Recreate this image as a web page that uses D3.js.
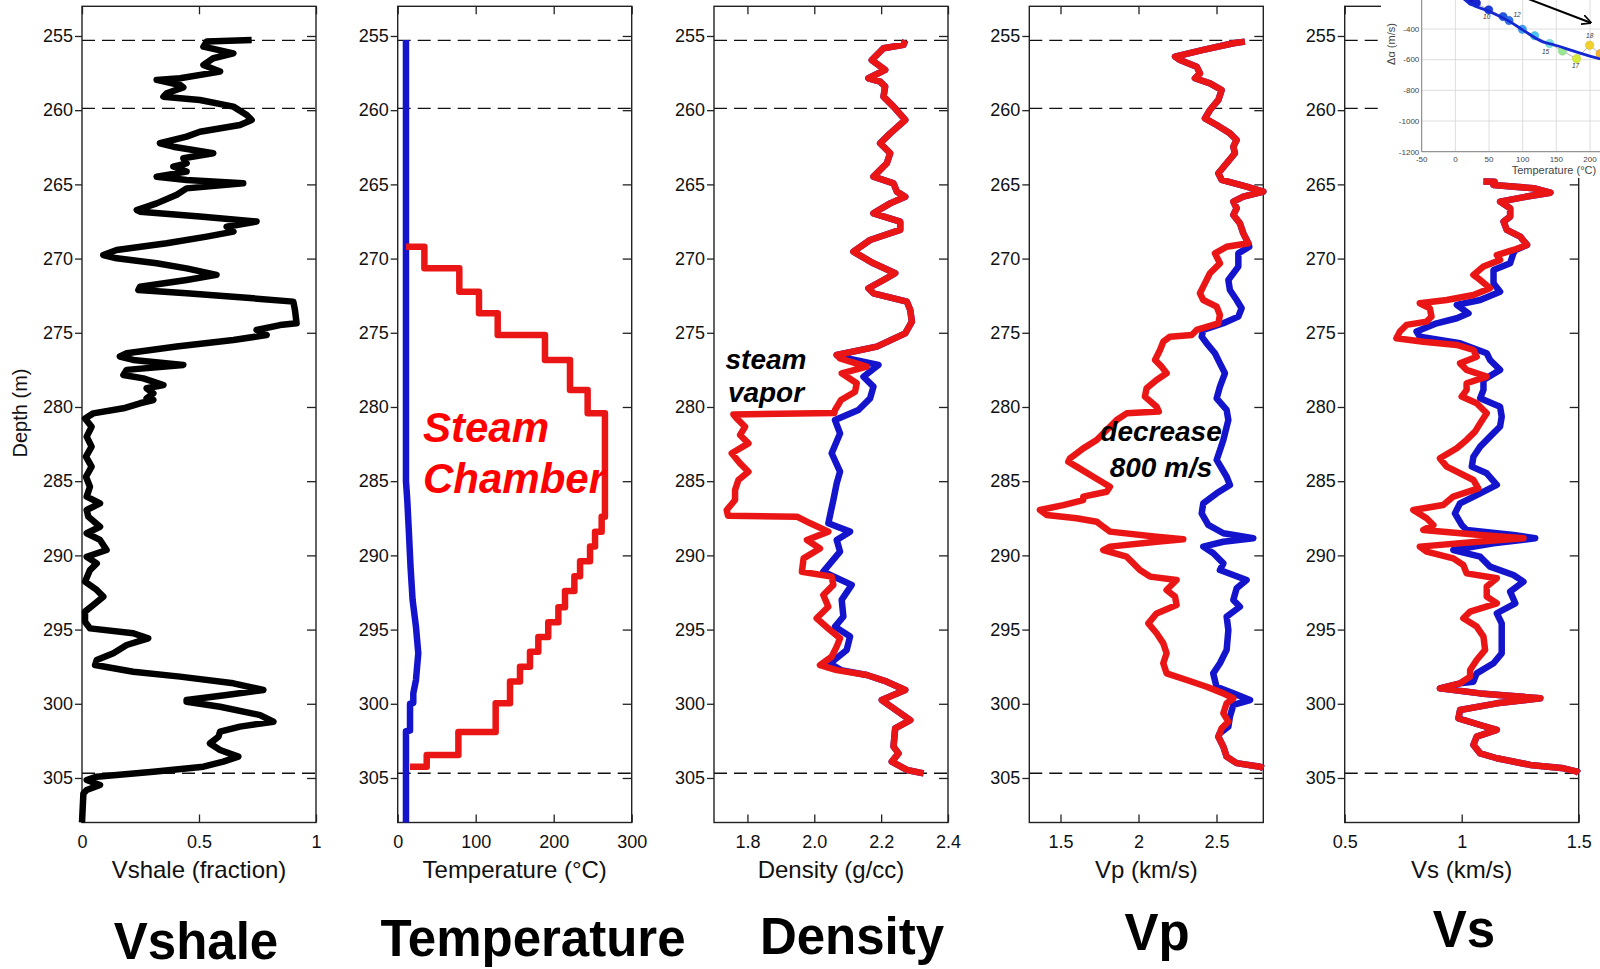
<!DOCTYPE html>
<html>
<head>
<meta charset="utf-8">
<script src="https://cdn.jsdelivr.net/npm/d3@7/dist/d3.min.js"></script>
<style>
html,body{margin:0;padding:0;background:#fff;}
svg{display:block;}
</style>
</head>
<body>
<svg id="chart" width="1600" height="969"></svg>
<script>
// ================= DATA =================
const panelTitles = ["Vshale", "Temperature", "Density", "Vp", "Vs"];
const axisTitles = ["Vshale (fraction)", "Temperature (\u00B0C)", "Density (g/cc)", "Vp (km/s)", "Vs (km/s)"];
const xDomains = [[0, 1], [0, 300], [1.7, 2.4], [1.3, 2.8], [0.5, 1.5]];
const xTickValues = [[0, 0.5, 1], [0, 100, 200, 300], [1.8, 2.0, 2.2, 2.4], [1.5, 2, 2.5], [0.5, 1, 1.5]];
const xTickLabels = [["0", "0.5", "1"], ["0", "100", "200", "300"], ["1.8", "2.0", "2.2", "2.4"], ["1.5", "2", "2.5"], ["0.5", "1", "1.5"]];
const depthDomain = [253, 308];
const depthTicks = [255, 260, 265, 270, 275, 280, 285, 290, 295, 300, 305];
const markerDepths = [255.29, 259.88, 304.68];

// [depth (m), Vshale fraction]
const vshale = [[255.27,0.725],[255.38,0.533],[255.72,0.519],[256.17,0.647],[256.5,0.561],[256.95,0.519],[257.4,0.59],[257.85,0.419],[257.96,0.319],[258.3,0.419],[258.46,0.433],[258.86,0.362],[259.09,0.348],[259.31,0.504],[259.76,0.647],[260.32,0.704],[260.66,0.725],[261.0,0.675],[261.45,0.504],[261.78,0.447],[262.23,0.333],[262.46,0.39],[262.9,0.561],[263.24,0.433],[263.58,0.447],[263.8,0.39],[264.14,0.447],[264.48,0.319],[264.7,0.447],[264.93,0.689],[265.27,0.447],[265.7,0.405],[266.28,0.319],[266.73,0.234],[266.84,0.248],[267.17,0.504],[267.5,0.746],[267.85,0.618],[268.18,0.647],[268.52,0.533],[268.97,0.362],[269.42,0.148],[269.76,0.091],[269.98,0.148],[270.32,0.319],[270.66,0.447],[271.1,0.575],[271.44,0.447],[271.9,0.248],[272.12,0.241],[272.34,0.447],[272.68,0.732],[272.9,0.903],[273.46,0.91],[274.36,0.917],[274.48,0.846],[274.81,0.746],[275.15,0.789],[275.49,0.647],[275.93,0.405],[276.38,0.191],[276.6,0.162],[276.83,0.219],[277.17,0.433],[277.5,0.191],[277.84,0.177],[278.07,0.262],[278.52,0.348],[278.74,0.276],[279.08,0.305],[279.42,0.276],[279.53,0.305],[279.75,0.248],[280.09,0.177],[280.43,0.048],[280.77,0.013],[281.33,0.041],[282.0,0.02],[282.67,0.041],[283.35,0.017],[284.02,0.041],[284.7,0.017],[285.37,0.034],[286.04,0.02],[286.5,0.077],[286.94,0.02],[287.39,0.027],[288.07,0.077],[288.51,0.02],[288.96,0.077],[289.64,0.105],[290.09,0.02],[290.54,0.063],[290.99,0.034],[291.77,0.013],[292.33,0.063],[292.78,0.091],[293.34,0.048],[293.79,0.013],[294.47,0.013],[294.92,0.034],[295.25,0.219],[295.59,0.283],[296.04,0.191],[296.6,0.134],[297.05,0.063],[297.39,0.056],[297.84,0.219],[298.17,0.419],[298.62,0.647],[299.07,0.775],[299.41,0.618],[299.75,0.447],[299.86,0.447],[300.2,0.59],[300.76,0.761],[301.21,0.818],[301.54,0.675],[301.88,0.59],[302.22,0.583],[302.67,0.547],[303.11,0.59],[303.56,0.668],[303.9,0.604],[304.24,0.519],[304.58,0.305],[304.91,0.063],[305.14,0.02],[305.47,0.077],[305.81,0.02],[306.04,0.006],[308,0.0]];

// Original (pre-steam) temperature [depth, degC]
const tempOriginal = [[255.27,10.6],[285.0,10.6],[286.3,12.3],[288.5,14.4],[290.8,16.5],[293.0,19.1],[294.8,23.4],[296.6,26.4],[298.4,23.4],[299.3,20.0],[299.95,20.0],[300.0,15.8],[301.8,15.8],[301.85,10.6],[308,10.6]];
// Steam chamber temperature: step boundaries (m) and the value inside each step (degC)
const steamTempDepth = [269.2,270.66,272.23,273.69,275.15,276.83,278.85,280.43,287.4,288.4,289.4,290.4,291.4,292.4,293.5,294.5,295.5,296.5,297.5,298.5,299.97,301.9,303.45,304.24];
const steamTempValue = [34.2,79,104.2,128.2,188.8,220.9,243.5,265.7,261.5,253,246.6,233.8,226.5,214.5,206,193,180.3,169.6,156.8,144,125.6,77.8,37.2];
const steamTempStart = 10.6, steamTempEnd = 15.8;

// Density [depth, g/cc] - steam case (red) and the original where it differs (blue)
const densitySteam = [[255.3,2.272],[255.6,2.267],[255.83,2.207],[256.62,2.172],[257.29,2.212],[257.85,2.162],[258.08,2.197],[258.41,2.212],[259.09,2.207],[259.76,2.237],[260.66,2.272],[261.56,2.227],[262.23,2.197],[262.9,2.227],[263.58,2.217],[264.48,2.177],[264.93,2.237],[265.49,2.247],[265.83,2.272],[266.28,2.227],[266.95,2.177],[267.51,2.257],[268.07,2.257],[268.75,2.167],[269.53,2.117],[270.32,2.177],[270.99,2.242],[271.44,2.207],[272.0,2.162],[272.34,2.177],[272.9,2.277],[273.46,2.287],[274.25,2.292],[275.04,2.272],[275.93,2.187],[276.5,2.067],[276.72,2.077],[276.95,2.108],[277.28,2.157],[277.73,2.082],[278.4,2.127],[278.97,2.122],[279.53,2.08],[280.2,2.062],[280.4,2.06],[280.5,1.758],[280.77,1.768],[281.33,1.793],[281.89,1.778],[282.45,1.803],[283.12,1.753],[283.8,1.778],[284.36,1.803],[284.92,1.773],[285.6,1.763],[286.27,1.763],[286.94,1.738],[287.33,1.742],[287.39,1.948],[287.84,1.988],[288.4,2.042],[288.96,1.978],[289.53,2.017],[290.2,1.968],[291.1,1.963],[291.43,2.052],[291.99,2.057],[292.67,2.027],[293.46,2.042],[294.24,2.007],[295.03,2.047],[295.59,2.077],[296.15,2.067],[296.83,2.052],[297.39,2.017],[297.73,2.067],[298.06,2.157],[298.51,2.217],[299.07,2.272],[299.75,2.202],[300.31,2.237],[301.1,2.287],[301.66,2.242],[302.89,2.237],[303.34,2.252],[303.9,2.232],[304.46,2.277],[304.69,2.327]];
const densityOriginalPart = [[276.72,2.1],[277.17,2.192],[277.96,2.147],[278.63,2.177],[279.42,2.167],[280.2,2.132],[280.88,2.062],[281.78,2.077],[283.12,2.052],[284.36,2.077],[285.15,2.067],[286.27,2.057],[287.84,2.042],[288.4,2.107],[288.96,2.067],[289.75,2.077],[291.1,2.027],[291.99,2.112],[293.0,2.082],[294.13,2.087],[294.8,2.062],[295.47,2.107],[296.37,2.097],[297.28,2.047],[297.73,2.08]];

// Vp [depth, km/s]
const vpSteam = [[255.38,2.682],[255.49,2.608],[255.94,2.415],[256.39,2.234],[256.62,2.266],[257.07,2.373],[257.52,2.394],[257.85,2.362],[258.19,2.458],[258.64,2.533],[259.31,2.512],[259.99,2.458],[260.55,2.426],[261.0,2.501],[261.56,2.586],[262.01,2.629],[262.46,2.608],[262.9,2.618],[263.58,2.565],[264.25,2.512],[264.7,2.533],[265.15,2.693],[265.49,2.8],[265.83,2.672],[266.16,2.608],[266.61,2.629],[267.06,2.608],[267.62,2.65],[268.3,2.672],[268.97,2.704],[269.2,2.565],[269.65,2.49],[270.32,2.522],[270.99,2.458],[271.89,2.415],[272.34,2.394],[272.79,2.415],[273.24,2.501],[273.8,2.522],[274.36,2.512],[274.81,2.373],[275.15,2.341],[275.26,2.202],[275.6,2.159],[276.16,2.138],[276.83,2.106],[277.28,2.148],[277.73,2.18],[278.18,2.116],[278.74,2.052],[279.3,2.041],[279.98,2.116],[280.31,2.13],[280.43,1.924],[280.88,1.86],[281.55,1.796],[282.23,1.732],[282.79,1.646],[283.46,1.561],[283.69,1.55],[284.02,1.603],[284.7,1.71],[285.37,1.817],[285.71,1.796],[286.04,1.646],[286.27,1.646],[286.61,1.518],[286.94,1.368],[287.28,1.411],[287.5,1.603],[287.73,1.732],[288.07,1.774],[288.4,1.817],[288.74,2.116],[288.92,2.287],[289.08,2.116],[289.41,1.817],[289.64,1.774],[290.09,1.924],[290.54,1.967],[290.99,2.009],[291.43,2.074],[291.66,2.244],[292.33,2.18],[292.78,2.234],[293.34,2.244],[293.91,2.116],[294.58,2.063],[295.25,2.116],[295.93,2.159],[296.6,2.18],[297.27,2.159],[297.95,2.18],[298.4,2.309],[298.85,2.437],[299.3,2.544],[299.63,2.608],[299.97,2.565],[300.64,2.544],[301.2,2.576],[301.65,2.533],[302.22,2.512],[302.89,2.544],[303.56,2.565],[304.0,2.629],[304.24,2.779],[304.35,2.8]];
const vpOriginalPart = [[269.2,2.71],[269.65,2.64],[270.54,2.64],[271.44,2.576],[272.12,2.586],[272.79,2.629],[273.35,2.661],[273.91,2.64],[274.36,2.544],[274.81,2.415],[275.26,2.405],[275.71,2.437],[276.38,2.49],[277.06,2.522],[277.73,2.554],[278.63,2.522],[279.42,2.501],[280.2,2.565],[280.88,2.576],[282.23,2.544],[283.57,2.501],[284.7,2.565],[285.26,2.586],[285.82,2.501],[286.5,2.415],[287.17,2.405],[287.95,2.447],[288.51,2.544],[288.85,2.736],[289.08,2.544],[289.41,2.415],[289.86,2.48],[290.54,2.544],[290.99,2.522],[291.66,2.693],[292.22,2.629],[293.0,2.608],[293.46,2.65],[294.13,2.565],[295.03,2.576],[296.37,2.565],[297.27,2.522],[297.95,2.479],[298.85,2.5],[299.3,2.608],[299.75,2.715],[300.08,2.608],[300.87,2.586],[301.54,2.576],[302.0,2.52]];

// Vs [depth, km/s]
const vsSteam = [[264.81,1.093],[264.83,1.14],[265.04,1.136],[265.26,1.307],[265.56,1.379],[265.82,1.279],[266.16,1.164],[266.61,1.207],[267.17,1.207],[267.51,1.179],[268.07,1.193],[268.52,1.25],[269.08,1.279],[269.42,1.221],[269.76,1.15],[270.09,1.164],[270.54,1.093],[271.1,1.05],[271.44,1.079],[272.0,1.121],[272.45,1.05],[272.79,0.936],[273.01,0.821],[273.35,0.864],[273.91,0.871],[274.25,0.85],[274.47,0.764],[274.92,0.736],[275.37,0.721],[275.6,0.836],[275.82,0.979],[276.16,1.05],[276.61,1.064],[277.06,0.993],[277.5,1.021],[277.95,1.107],[278.4,1.021],[278.85,1.021],[279.3,1.0],[279.75,1.064],[280.42,1.107],[281.1,1.079],[281.66,1.057],[282.22,1.021],[282.78,0.979],[283.46,0.907],[284.02,0.936],[284.24,0.964],[284.92,1.05],[285.48,1.071],[286.04,0.964],[286.6,0.921],[286.94,0.793],[287.5,0.85],[287.95,0.879],[288.29,0.836],[288.62,1.079],[288.85,1.264],[289.07,1.079],[289.41,0.821],[289.75,0.85],[290.2,0.964],[290.65,1.007],[291.21,1.021],[291.54,1.15],[292.1,1.107],[292.78,1.107],[293.23,1.15],[293.79,1.036],[294.24,1.007],[294.8,1.064],[295.47,1.093],[296.37,1.1],[297.05,1.064],[297.72,1.036],[298.17,1.036],[298.62,0.993],[298.96,0.907],[299.3,1.079],[299.63,1.336],[299.97,1.15],[300.42,0.993],[300.98,0.986],[301.43,1.079],[301.76,1.15],[302.21,1.064],[302.77,1.05],[303.34,1.079],[303.67,1.15],[304.12,1.293],[304.35,1.436],[304.57,1.493],[304.68,1.5]];
const vsOriginalPart = [[269.42,1.23],[269.64,1.221],[270.32,1.207],[270.77,1.136],[271.67,1.136],[272.23,1.164],[272.79,1.079],[273.12,0.979],[273.69,1.029],[274.02,0.979],[274.36,0.893],[274.92,0.807],[275.26,0.821],[275.71,0.993],[276.38,1.107],[276.83,1.121],[277.5,1.164],[278.18,1.093],[278.85,1.093],[279.41,1.079],[279.98,1.164],[280.65,1.171],[281.32,1.164],[282.0,1.121],[282.67,1.079],[283.35,1.05],[284.02,1.043],[284.47,1.107],[285.25,1.15],[285.82,1.079],[286.49,0.993],[287.17,0.971],[287.95,1.0],[288.29,1.021],[288.62,1.221],[288.85,1.314],[289.19,1.136],[289.64,0.964],[290.09,1.079],[290.76,1.121],[291.32,1.221],[291.77,1.264],[292.44,1.207],[293.23,1.229],[293.9,1.15],[294.58,1.171],[295.7,1.171],[296.6,1.171],[297.27,1.136],[297.95,1.064],[298.51,1.05]];

// Inset: velocity change vs temperature
const insetXTicks = [-50, 0, 50, 100, 150, 200];
const insetYTicks = [-1200, -1000, -800, -600, -400, -200];
const insetYTickLabels = [-1200, -1000, -800, -600, -400];
const insetCurve = [[10,-190],[14,-209],[51,-286],[81,-352],[100.5,-407],[130,-484],[145,-501],[175,-543],[214,-594],[240,-620]];
const insetPoints = [[23.8,-220],[31.2,-231],[49.5,-275],[70.8,-319],[79.7,-345],[99.5,-402],[117.8,-444],[140,-495],[159,-543],[180,-594],[199.5,-506],[215,-561]];
const insetPointLabels = ["", "", "10", "", "12", "", "", "15", "", "17", "18", ""];
const insetArrow = [[100,-190],[201,-359]];

// ================= STYLE / LAYOUT =================
const FONT = "'Liberation Sans', Arial, Helvetica, sans-serif";
const RED = "#ea1616", BLUE = "#1414cc";
const insetPointColors = ["#1414c8","#1822d0","#1c3cd8","#2458e0","#2f72e8","#3fa2ee","#4cc4ee","#7ee0dc","#98e894","#d6ec3c","#f2d22a","#f4b030"];
const plotTop = 6.3, plotBottom = 822.5, panelWidth = 234;
const panelLefts = [82, 397.7, 714, 1029.3, 1344.7];
const titleX = [196, 533, 852, 1157, 1464];
const titleY = [959, 956, 954, 950, 947];

const svg = d3.select("#chart");
const y = d3.scaleLinear().domain(depthDomain).range([plotTop, plotBottom]);

function styleAxis(g, fontSize) {
  g.select(".domain").remove();
  g.selectAll(".tick line").attr("stroke", "#222").attr("stroke-width", 1.3);
  g.selectAll(".tick text").attr("font-size", fontSize).attr("font-family", FONT).attr("fill", "#111");
}
function withOriginal(steam, part) {
  const a = part[0][0], b = part[part.length - 1][0];
  return steam.filter(p => p[0] < a).concat(part, steam.filter(p => p[0] > b));
}

const xs = panelLefts.map((left, i) => {
  const x = d3.scaleLinear().domain(xDomains[i]).range([left, left + panelWidth]);
  const g = svg.append("g").attr("class", "panel");
  g.selectAll("line.mk").data(markerDepths).join("line")
    .attr("x1", left).attr("x2", left + panelWidth)
    .attr("y1", d => y(d)).attr("y2", d => y(d))
    .attr("stroke", "#111").attr("stroke-width", 1.3).attr("stroke-dasharray", "13,7");
  g.append("rect").attr("x", left).attr("y", plotTop).attr("width", panelWidth)
    .attr("height", plotBottom - plotTop).attr("fill", "none").attr("stroke", "#222").attr("stroke-width", 1.4);
  const la = g.append("g").attr("transform", `translate(${left},0)`)
    .call(d3.axisLeft(y).tickValues(depthTicks).tickSize(7).tickPadding(2).tickFormat(d3.format("d")));
  styleAxis(la, 18);
  const ra = g.append("g").attr("transform", `translate(${left + panelWidth},0)`)
    .call(d3.axisLeft(y).tickValues(depthTicks).tickSize(9).tickFormat(""));
  styleAxis(ra, 18);
  const ta = g.append("g").attr("transform", `translate(0,${plotTop})`)
    .call(d3.axisBottom(x).tickValues(xTickValues[i]).tickSize(8).tickFormat(""));
  styleAxis(ta, 18);
  const ba = g.append("g").attr("transform", `translate(0,${plotBottom})`)
    .call(d3.axisTop(x).tickValues(xTickValues[i]).tickSize(8).tickFormat(""));
  styleAxis(ba, 18);
  const bl = g.append("g").attr("transform", `translate(0,${plotBottom})`)
    .call(d3.axisBottom(x).tickValues(xTickValues[i]).tickSize(0).tickPadding(13)
      .tickFormat((d, k) => xTickLabels[i][k]));
  styleAxis(bl, 18);
  g.append("text").attr("x", left + panelWidth / 2).attr("y", 878)
    .attr("text-anchor", "middle").attr("font-family", FONT).attr("font-size", 24).attr("fill", "#111")
    .text(axisTitles[i]);
  svg.append("text").attr("x", titleX[i]).attr("y", titleY[i])
    .attr("text-anchor", "middle").attr("font-family", FONT).attr("font-weight", "bold")
    .attr("font-size", 51).attr("fill", "#000").text(panelTitles[i]);
  return { x, g };
});

svg.append("text").attr("transform", "translate(27,413) rotate(-90)")
  .attr("text-anchor", "middle").attr("font-family", FONT).attr("font-size", 20).attr("fill", "#111")
  .text("Depth (m)");

function drawCurve(p, data, color) {
  const x = xs[p].x;
  xs[p].g.append("path").datum(data)
    .attr("d", d3.line().x(d => x(d[1])).y(d => y(d[0])))
    .attr("fill", "none").attr("stroke", color).attr("stroke-width", 6.5)
    .attr("stroke-linejoin", "round").attr("stroke-linecap", "butt");
}

drawCurve(0, vshale, "#000");

drawCurve(1, tempOriginal, BLUE);
const steamPts = [[steamTempDepth[0], steamTempStart]];
steamTempValue.forEach((v, i) => { steamPts.push([steamTempDepth[i], v]); steamPts.push([steamTempDepth[i + 1], v]); });
steamPts.push([steamTempDepth[steamTempDepth.length - 1], steamTempEnd]);
drawCurve(1, steamPts, RED);

drawCurve(2, withOriginal(densitySteam, densityOriginalPart), BLUE);
drawCurve(2, densitySteam, RED);

drawCurve(3, withOriginal(vpSteam, vpOriginalPart), BLUE);
drawCurve(3, vpSteam, RED);

drawCurve(4, withOriginal(vsSteam, vsOriginalPart), BLUE);
drawCurve(4, vsSteam, RED);

function annot(txt, x, yy, size, color, anchor) {
  svg.append("text").attr("x", x).attr("y", yy).attr("text-anchor", anchor || "start")
    .attr("font-family", FONT).attr("font-weight", "bold").attr("font-style", "italic")
    .attr("font-size", size).attr("fill", color).text(txt);
}
annot("Steam", 423, 442, 42, "#ff0000");
annot("Chamber", 423, 493, 42, "#ff0000");
annot("steam", 766, 369, 28, "#000", "middle");
annot("vapor", 766, 402, 28, "#000", "middle");
annot("decrease", 1161, 441, 28, "#000", "middle");
annot("800 m/s", 1161, 477, 28, "#000", "middle");

// ================= INSET =================
const inset = { x: 1381, y: 0, w: 219, h: 178 };
svg.append("clipPath").attr("id", "insetClip").append("rect")
  .attr("x", inset.x).attr("y", inset.y).attr("width", inset.w).attr("height", inset.h);
const ig = svg.append("g").attr("clip-path", "url(#insetClip)");
ig.append("rect").attr("x", inset.x).attr("y", inset.y).attr("width", inset.w).attr("height", inset.h).attr("fill", "#fff");
const ix = d3.scaleLinear().domain([-50, 200]).range([1421.7, 1590]);
const iy = d3.scaleLinear().domain([-1200, -400]).range([151.7, 29]);
ig.selectAll("line.gx").data(insetXTicks).join("line")
  .attr("x1", d => ix(d)).attr("x2", d => ix(d)).attr("y1", iy(-1200)).attr("y2", iy(-100))
  .attr("stroke", "#d6d6d6").attr("stroke-width", 0.8);
ig.selectAll("line.gy").data(insetYTicks).join("line")
  .attr("x1", ix(-50)).attr("x2", ix(260)).attr("y1", d => iy(d)).attr("y2", d => iy(d))
  .attr("stroke", "#d6d6d6").attr("stroke-width", 0.8);
ig.append("line").attr("x1", ix(-50)).attr("x2", ix(260)).attr("y1", iy(-1200)).attr("y2", iy(-1200)).attr("stroke", "#777").attr("stroke-width", 0.9);
ig.append("line").attr("x1", ix(-50)).attr("x2", ix(-50)).attr("y1", iy(-1200)).attr("y2", iy(-100)).attr("stroke", "#777").attr("stroke-width", 0.9);
ig.selectAll("text.tx").data(insetXTicks).join("text")
  .attr("x", d => ix(d)).attr("y", 161.5).attr("text-anchor", "middle")
  .attr("font-family", FONT).attr("font-size", 8).attr("fill", "#444").text(d => d);
ig.selectAll("text.ty").data(insetYTickLabels).join("text")
  .attr("x", 1419.3).attr("y", d => iy(d) + 2.8).attr("text-anchor", "end")
  .attr("font-family", FONT).attr("font-size", 8).attr("fill", "#444").text(d => d);
ig.append("text").attr("x", 1511.7).attr("y", 173.5).attr("font-family", FONT).attr("font-size", 11)
  .attr("fill", "#444").text("Temperature (\u00B0C)");
ig.append("text").attr("transform", "translate(1395,44) rotate(-90)").attr("text-anchor", "middle")
  .attr("font-family", FONT).attr("font-size", 11).attr("fill", "#444").text("\u0394\u03B1 (m/s)");
ig.append("path").datum(insetPoints)
  .attr("d", d3.line().x(d => ix(d[0])).y(d => iy(d[1])))
  .attr("fill", "none").attr("stroke", "#9a9a9a").attr("stroke-width", 0.7);
ig.selectAll("circle.pt").data(insetPoints).join("circle")
  .attr("cx", d => ix(d[0])).attr("cy", d => iy(d[1])).attr("r", 4.2)
  .attr("fill", (d, i) => insetPointColors[i]).attr("stroke", (d, i) => d3.color(insetPointColors[i]).darker(0.4)).attr("stroke-width", 0.5);
ig.append("path").datum(insetCurve)
  .attr("d", d3.line().curve(d3.curveMonotoneX).x(d => ix(d[0])).y(d => iy(d[1])))
  .attr("fill", "none").attr("stroke", "#1428d2").attr("stroke-width", 2.8);
const labelOffsets = { "10": [-2, 9], "12": [8, -4], "15": [-4, 10], "17": [-1, 9], "18": [0, -7] };
const labeled = insetPoints.map((d, i) => ({ p: d, lab: insetPointLabels[i] })).filter(o => o.lab !== "");
ig.selectAll("text.pl").data(labeled).join("text")
  .attr("x", o => ix(o.p[0]) + labelOffsets[o.lab][0])
  .attr("y", o => iy(o.p[1]) + labelOffsets[o.lab][1])
  .attr("text-anchor", "middle").attr("font-family", FONT).attr("font-style", "italic")
  .attr("font-size", 6.5).attr("fill", "#333").text(o => o.lab);
svg.append("defs").append("marker").attr("id", "arrowHead").attr("viewBox", "0 0 10 10")
  .attr("refX", 9).attr("refY", 5).attr("markerWidth", 5).attr("markerHeight", 5).attr("orient", "auto")
  .append("path").attr("d", "M0,0 L10,5 L0,10").attr("fill", "none").attr("stroke", "#000").attr("stroke-width", 1.6);
ig.append("path").datum(insetArrow)
  .attr("d", d3.line().x(d => ix(d[0])).y(d => iy(d[1])))
  .attr("stroke", "#000").attr("stroke-width", 2).attr("fill", "none").attr("marker-end", "url(#arrowHead)");
</script>
</body>
</html>
